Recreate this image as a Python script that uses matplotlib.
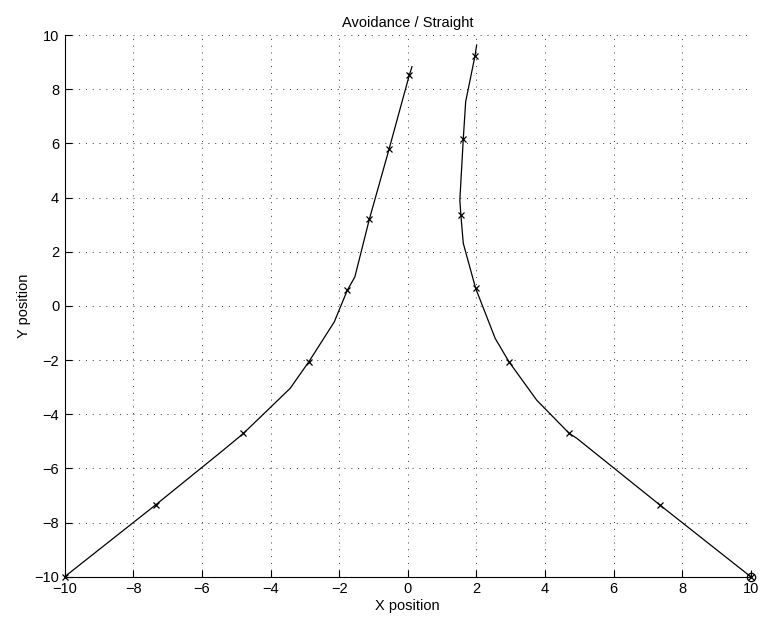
import matplotlib
matplotlib.use("Agg")
import matplotlib.pyplot as plt

plt.rcParams['font.family'] = ['Liberation Sans', 'DejaVu Sans']

# Left agent trajectory (polyline vertices)
left_x = [-10.0, -7.35, -5.38, -4.79, -3.43, -2.88, -2.14, -1.76, -1.54, -1.12, -0.545, 0.047, 0.125]
left_y = [-10.0, -7.35, -5.33, -4.71, -3.05, -2.06, -0.59, 0.58, 1.07, 3.19, 5.78, 8.52, 8.83]
# Left agent sampled positions (x markers)
left_mx = [-10.0, -7.35, -4.79, -2.88, -1.76, -1.12, -0.545, 0.047]
left_my = [-10.0, -7.35, -4.71, -2.06, 0.58, 3.19, 5.78, 8.52]

# Right agent trajectory (polyline vertices)
right_x = [10.0, 7.36, 4.93, 4.71, 3.76, 2.95, 2.55, 1.98, 1.62, 1.55, 1.52, 1.62, 1.69, 1.96, 2.01]
right_y = [-10.0, -7.36, -4.89, -4.71, -3.48, -2.06, -1.20, 0.65, 2.31, 3.35, 3.91, 6.16, 7.54, 9.22, 9.63]
# Right agent sampled positions (x markers)
right_mx = [10.0, 7.36, 4.71, 2.95, 1.98, 1.55, 1.62, 1.96]
right_my = [-10.0, -7.36, -4.71, -2.06, 0.65, 3.35, 6.16, 9.22]

# Goal / start circle
circ_x = [10.0]
circ_y = [-10.0]

xticks = [-10, -8, -6, -4, -2, 0, 2, 4, 6, 8, 10]
yticks = [-10, -8, -6, -4, -2, 0, 2, 4, 6, 8, 10]

fig = plt.figure(figsize=(7.62, 6.23), dpi=100)
ax = fig.add_axes([0.0849, 0.0743, 0.9003, 0.8695])

ax.plot(left_x, left_y, color='black', lw=0.9, clip_on=False)
ax.plot(right_x, right_y, color='black', lw=0.9, clip_on=False)
ax.plot(left_mx, left_my, 'x', color='black', ms=5, mew=0.9, clip_on=False)
ax.plot(right_mx, right_my, 'x', color='black', ms=5, mew=0.9, clip_on=False)
ax.plot(circ_x, circ_y, 'o', mfc='none', mec='black', ms=6, mew=0.9, clip_on=False)

ax.set_xlim(-10, 10)
ax.set_ylim(-10, 10)
ax.set_xticks(xticks)
ax.set_yticks(yticks)
ax.set_xticklabels([str(t).replace('-', '\u2212') for t in xticks])
ax.set_yticklabels([str(t).replace('-', '\u2212') for t in yticks])

ax.grid(True, color='#333333', linestyle=(0, (1, 6)), linewidth=0.7)
ax.set_axisbelow(True)

for s in ['top', 'right']:
    ax.spines[s].set_visible(False)
for s in ['left', 'bottom']:
    ax.spines[s].set_linewidth(0.8)

ax.tick_params(direction='in', length=5, width=0.8, labelsize=10.5, pad=4,
               top=False, right=False)

ax.set_title('Avoidance / Straight', fontsize=10.5, pad=6)
ax.set_xlabel('X position', fontsize=10.5, labelpad=2)
ax.set_ylabel('Y position', fontsize=10.5, labelpad=2)

fig.savefig('out.png', dpi=100)
